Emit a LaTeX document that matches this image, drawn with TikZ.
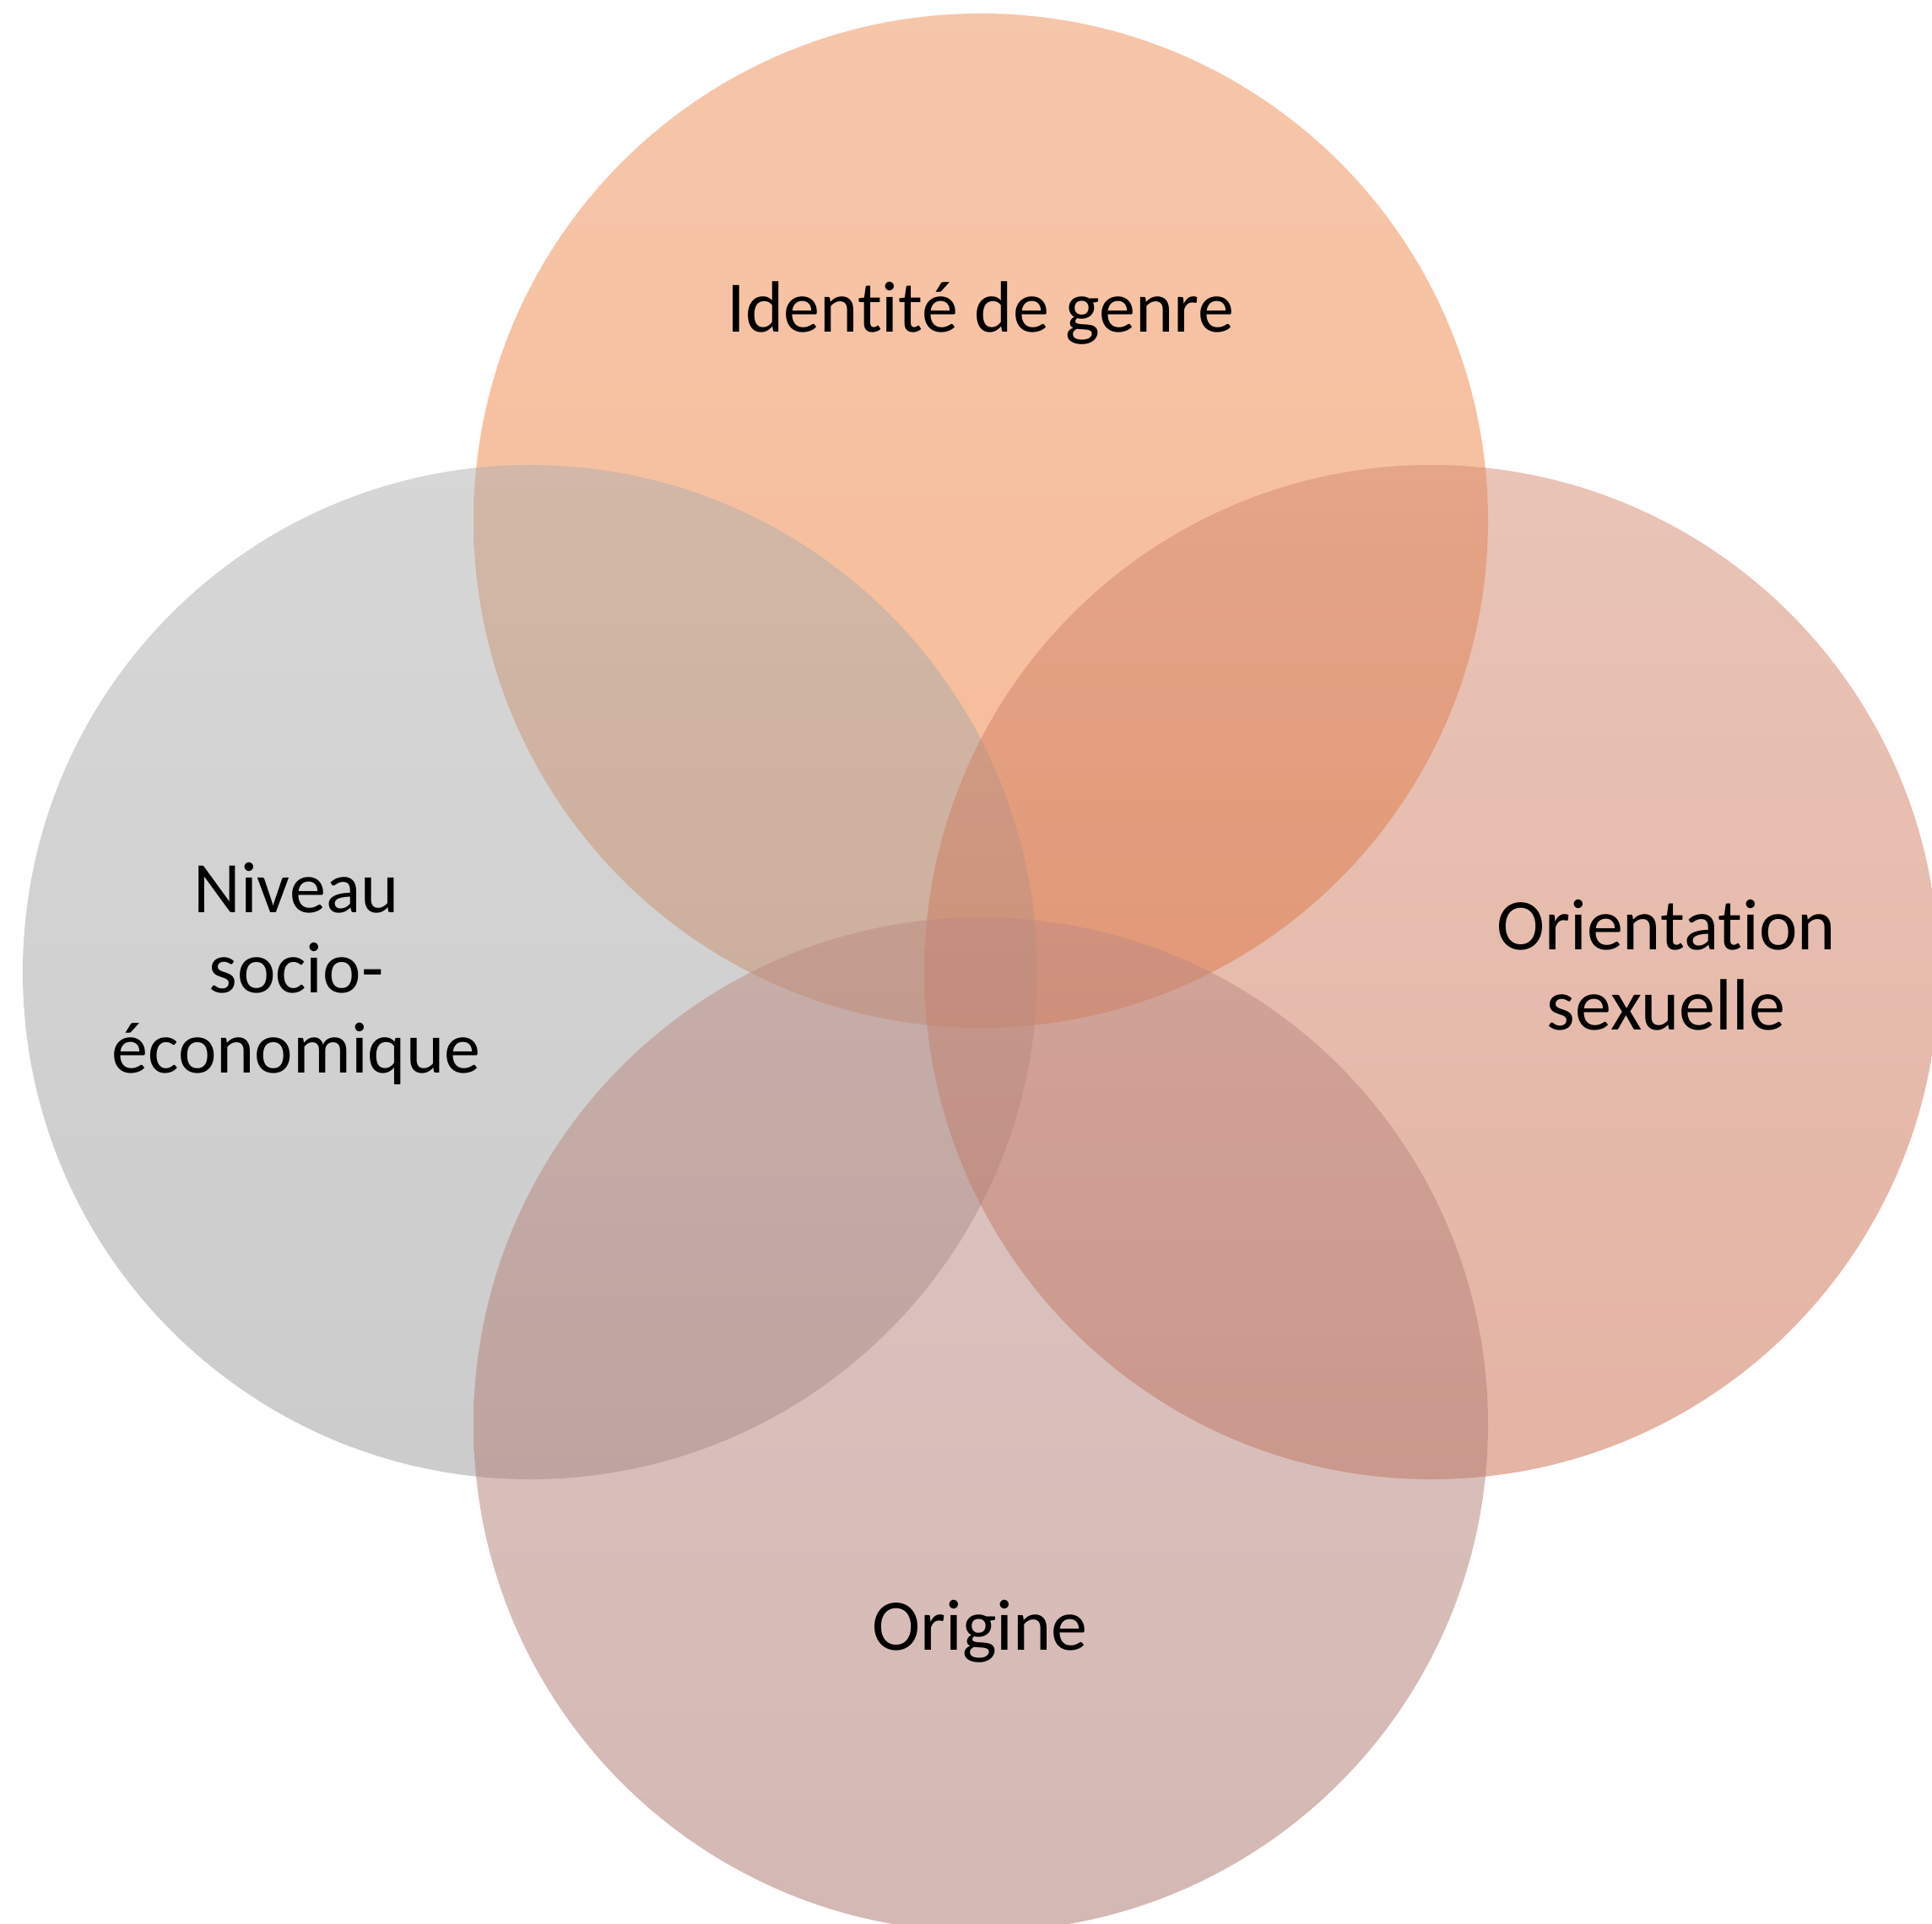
\documentclass[tikz,border=0pt]{standalone}
\usepackage{fontspec}
\setmainfont{Carlito}[Ligatures=NoCommon]
\usetikzlibrary{shapes,positioning}

\definecolor{genreTop}{RGB}{237,141,85}
\definecolor{genreBot}{RGB}{239,119,45}
\definecolor{niveauTop}{RGB}{175,175,175}
\definecolor{niveauBot}{RGB}{153,153,153}
\definecolor{orientTop}{RGB}{211,137,111}
\definecolor{orientBot}{RGB}{201,105,73}
\definecolor{origineTop}{RGB}{189,139,131}
\definecolor{origineBot}{RGB}{169,113,105}

\begin{document}
\begin{tikzpicture}[
    venn/.style={circle, minimum size=12.02cm, inner sep=0pt, fill opacity=0.5},
    lbl/.style={font=\fontsize{24.5}{27}\selectfont, align=center, anchor=base, inner sep=0pt}
]
    \useasboundingbox (0,0) rectangle (22.89,22.79);
    \clip (0,0) rectangle (22.89,22.79);

    % the four circles, drawn one over the other
    \node[venn, top color=genreTop, bottom color=genreBot] (genre) at (11.62,16.62) {};
    \node[venn, top color=niveauTop, bottom color=niveauBot] (niveau) at (6.28,11.27) {};
    \node[venn, top color=orientTop, bottom color=orientBot] (orient) at (16.96,11.27) {};
    \node[venn, top color=origineTop, bottom color=origineBot] (origine) at (11.62,5.91) {};

    % Labels (base = last line)
    \node[lbl] (lgenre) at (11.62,18.85) {Identité de genre};
    \node[lbl] (lniveau) at (3.51,10.08) {Niveau\\socio-\\économique};
    \node[lbl] (lorient) at (19.74,10.59) {Orientation\\sexuelle};
    \node[lbl] (lorigine) at (11.61,3.24) {Origine};
\end{tikzpicture}
\end{document}
